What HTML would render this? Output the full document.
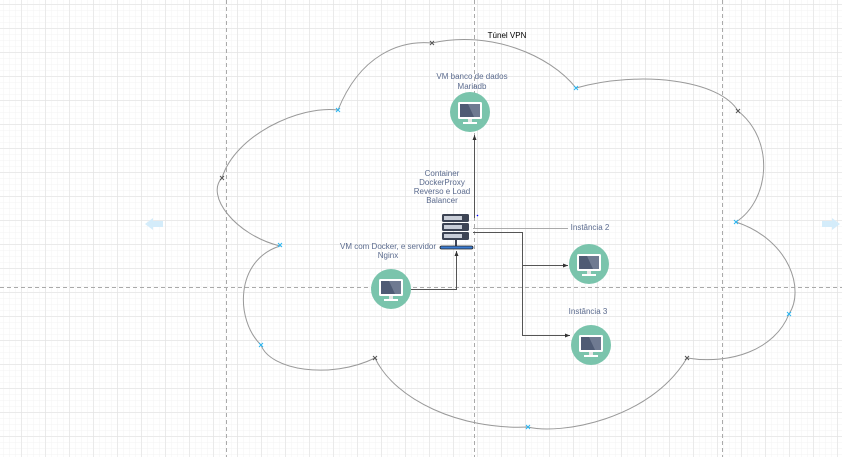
<!DOCTYPE html>
<html><head><meta charset="utf-8"><style>
html,body{margin:0;padding:0;background:#fff;}
svg{display:block;}
text{font-family:"Liberation Sans",sans-serif;font-size:8px;text-anchor:middle;}
</style></head><body>
<svg width="842" height="457" viewBox="0 0 842 457" xmlns="http://www.w3.org/2000/svg">
<defs>
<pattern id="minor" width="6" height="6" patternUnits="userSpaceOnUse" x="3.5" y="4.5">
<path d="M6 0V6M0 6H6" stroke="#f3f3f3" stroke-width="1" fill="none"/></pattern>
<pattern id="major" width="24" height="24" patternUnits="userSpaceOnUse" x="21.5" y="4.5">
<path d="M0 0V24M0 0H24" stroke="#e0e0e0" stroke-width="1" fill="none"/></pattern>
<marker id="ar" markerWidth="6" markerHeight="6" refX="5" refY="3" orient="auto"><path d="M0,1 L5,3 L0,5z" fill="#333"/></marker>
<g id="mon">
<circle r="20" fill="#7ac4ac"/>
<rect x="-12" y="-10" width="24" height="17" rx="1.5" fill="#fff"/>
<rect x="-10" y="-8" width="20" height="13" fill="#4f5b74"/>
<path d="M-2,-8 L10,-8 L10,5 L4,5z" fill="#6f7a91"/>
<rect x="-2" y="7" width="4" height="3" fill="#e8e8e8"/>
<rect x="-7" y="10" width="14" height="2" fill="#fff"/>
</g>
</defs>
<rect width="842" height="457" fill="#fff"/>
<rect width="842" height="457" fill="url(#minor)"/>
<rect width="842" height="457" fill="url(#major)"/>
<g stroke="#aaa" stroke-dasharray="4,3" stroke-width="1">
<path d="M226.5 0V457M474.5 0V457M722.5 0V457M0 287.5H842"/>
</g>
<path d="M280,246 C235,235 205,195 222,178 C235,135 300,105 338,110 C360,55 400,40 432,43 C490,30 550,55 576,88 C640,70 720,80 738,111 C775,140 770,200 736,222 C790,240 805,290 789,314 C775,350 730,365 687,358 C650,420 560,435 528,427 C460,430 395,400 375,358 C330,380 270,370 261,345 C235,320 235,260 280,246 Z" fill="none" stroke="#999" stroke-width="1"/>
<g stroke-width="1" font-size="8">
<g stroke="#29b6f2"><path d="M278,243l4,4m0,-4l-4,4M336,108l4,4m0,-4l-4,4M574,86l4,4m0,-4l-4,4M734,220l4,4m0,-4l-4,4M787,312l4,4m0,-4l-4,4M526,425l4,4m0,-4l-4,4M259,343l4,4m0,-4l-4,4"/></g>
<g stroke="#555"><path d="M220,176l4,4m0,-4l-4,4M430,41l4,4m0,-4l-4,4M736,109l4,4m0,-4l-4,4M685,356l4,4m0,-4l-4,4M373,356l4,4m0,-4l-4,4"/></g>
</g>
<path d="M145,224 l8,-6 v3 h10 v6 h-10 v3z" fill="#d4ecfa"/>
<path d="M840,224 l-8,-6 v3 h-10 v6 h10 v3z" fill="#d4ecfa"/>
<text x="507" y="38" font-size="9" fill="#000">Túnel VPN</text>
<g fill="none" stroke="#555" stroke-width="1">
<path d="M474.5,218 V135" marker-end="url(#ar)"/>
<path d="M411,289.5 H456.5 V251" marker-end="url(#ar)"/>
<path d="M473,232.5 H522.5 V265.5 H568" marker-end="url(#ar)"/>
<path d="M522.5,232 V335.5 H570" marker-end="url(#ar)"/>
</g>
<path d="M473,228.5 H568" stroke="#aaa" fill="none"/>
<circle cx="477.5" cy="215.5" r="0.8" fill="#00f"/>
<use href="#mon" x="470" y="112"/>
<use href="#mon" x="391" y="289"/>
<use href="#mon" x="589" y="264"/>
<use href="#mon" x="591" y="345"/>
<g>
<rect x="442" y="214" width="27" height="8" rx="1.5" fill="#3d4454"/>
<rect x="442" y="223" width="27" height="8" rx="1.5" fill="#3d4454"/>
<rect x="442" y="232" width="27" height="8" rx="1.5" fill="#3d4454"/>
<rect x="444" y="216" width="18" height="4" fill="#c9ced8"/>
<rect x="444" y="225" width="18" height="4" fill="#c9ced8"/>
<rect x="444" y="234" width="18" height="4" fill="#c9ced8"/>
<rect x="455" y="240" width="2" height="6" fill="#3d4454"/>
<rect x="440" y="246" width="33" height="3" rx="1.5" fill="#3b7bd0" stroke="#222" stroke-width="0.8"/>
</g>
<g fill="#5b6b8e">
<text x="472" y="79">VM banco de dados</text>
<text x="472" y="89">Mariadb</text>
<text x="442" y="176">Container</text>
<text x="442" y="185">DockerProxy</text>
<text x="442" y="194">Reverso e Load</text>
<text x="442" y="203">Balancer</text>
<text x="388" y="249">VM com Docker, e servidor</text>
<text x="388" y="258">Nginx</text>
<text x="590" y="230" text-anchor="middle">Instância 2</text>
<text x="588" y="314">Instância 3</text>
</g>
</svg>
</body></html>
